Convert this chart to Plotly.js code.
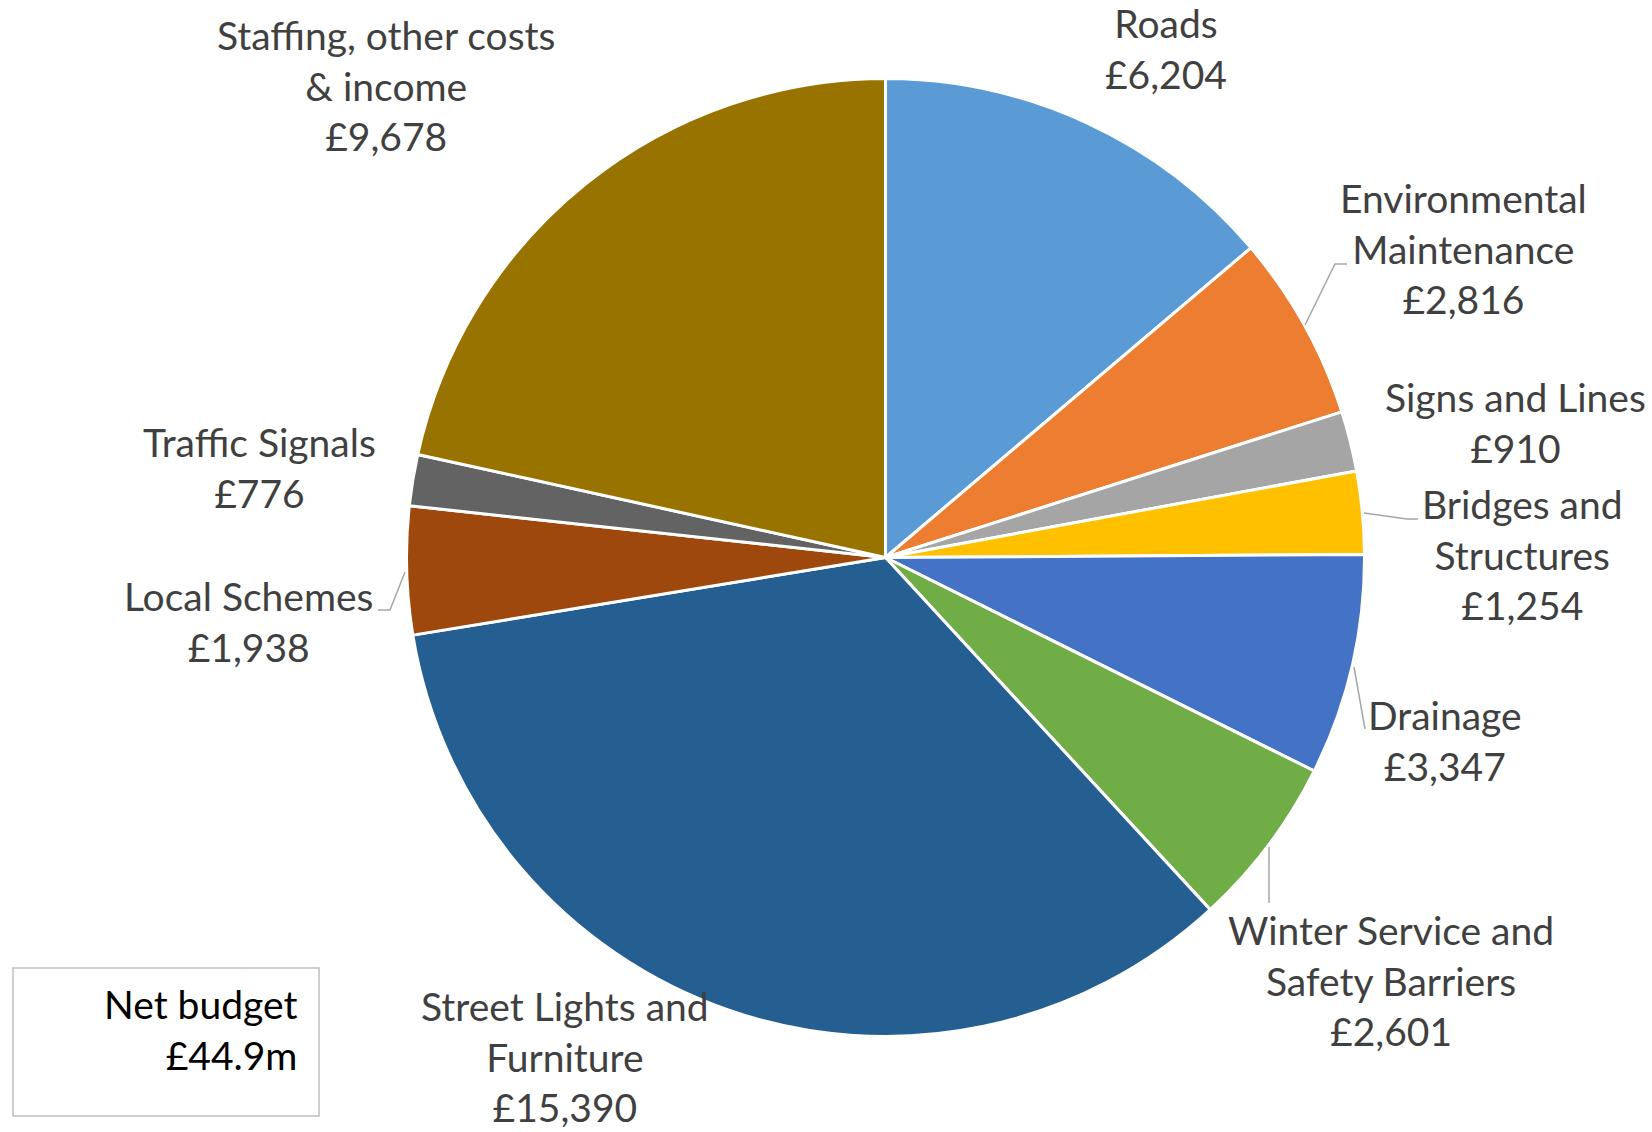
<!DOCTYPE html>
<html>
<head>
<meta charset="utf-8">
<script src="https://cdn.plot.ly/plotly-3.0.1.min.js"></script>
<style>
  html, body { margin: 0; padding: 0; background: #ffffff; }
  #chart { width: 1652px; height: 1132px; }
</style>
</head>
<body>
<div id="chart"></div>
<script>
// ---- Data ----
const categories = [
  "Roads",
  "Environmental Maintenance",
  "Signs and Lines",
  "Bridges and Structures",
  "Drainage",
  "Winter Service and Safety Barriers",
  "Street Lights and Furniture",
  "Local Schemes",
  "Traffic Signals",
  "Staffing, other costs & income"
];
const labelLines = [
  "Roads",
  "Environmental<br>Maintenance",
  "Signs and Lines",
  "Bridges and<br>Structures",
  "Drainage",
  "Winter Service and<br>Safety Barriers",
  "Street Lights and<br>Furniture",
  "Local Schemes",
  "Traffic Signals",
  "Staffing, other costs<br>& income"
];
const values = [6204, 2816, 910, 1254, 3347, 2601, 15390, 1938, 776, 9678];
const sliceColors = ["#5B9BD5", "#ED7D31", "#A5A5A5", "#FFC000", "#4472C4",
                     "#70AD47", "#255E91", "#9E480E", "#636363", "#997300"];
const totalLabel = "Net budget<br>£44.9m";

// ---- Layout helpers ----
const W = 1652, H = 1132;
const px = x => x / W;
const py = y => 1 - y / H;

// label centre positions (pixels)
const labelPos = [
  [1166, 49], [1463, 248], [1515, 422], [1522, 555], [1445, 740],
  [1391, 980], [565, 1056], [248, 621], [259, 467], [386, 86]
];

// leader lines (pixel polylines)
const leaders = [
  [[1305, 325], [1335, 264], [1347, 264]],
  [[1364, 513], [1407, 519], [1418, 519]],
  [[1354, 667], [1365, 729]],
  [[1269, 847], [1269, 903]],
  [[405, 572], [390, 610], [378, 610]]
];

const fmt = v => "£" + v.toLocaleString("en-GB");

const annotations = categories.map((c, i) => ({
  xref: "paper", yref: "paper",
  x: px(labelPos[i][0]), y: py(labelPos[i][1]),
  xanchor: "center", yanchor: "middle",
  text: labelLines[i] + "<br>" + fmt(values[i]),
  showarrow: false, align: "center", borderpad: 0,
  font: { family: "Lato, 'Open Sans', sans-serif", size: 39, color: "#404040" }
}));

annotations.push({
  xref: "paper", yref: "paper",
  x: px(298), y: py(1029),
  xanchor: "right", yanchor: "middle",
  text: totalLabel, showarrow: false, align: "right", borderpad: 0,
  font: { family: "Lato, 'Open Sans', sans-serif", size: 39, color: "#000000" }
});

const shapes = [];
leaders.forEach(pts => {
  let path = "M" + pts.map(p => px(p[0]) + "," + py(p[1])).join(" L");
  shapes.push({
    type: "path", xref: "paper", yref: "paper", path: path,
    line: { color: "#A6A6A6", width: 1.5 }
  });
});
shapes.push({
  type: "rect", xref: "paper", yref: "paper",
  x0: px(13), x1: px(319), y0: py(968), y1: py(1116),
  line: { color: "#BFBFBF", width: 1.5 }, fillcolor: "rgba(0,0,0,0)"
});

const trace = {
  type: "pie",
  labels: categories,
  values: values,
  sort: false,
  direction: "clockwise",
  rotation: 0,
  textinfo: "none",
  hoverinfo: "label+value",
  marker: { colors: sliceColors, line: { color: "#ffffff", width: 3 } },
  domain: { x: [px(885.5 - 479), px(885.5 + 479)], y: [py(1036.5), py(78.5)] },
  showlegend: false
};

const layout = {
  width: W, height: H,
  margin: { l: 0, r: 0, t: 0, b: 0 },
  paper_bgcolor: "#ffffff",
  showlegend: false,
  annotations: annotations,
  shapes: shapes
};

Plotly.newPlot("chart", [trace], layout, { displayModeBar: false, staticPlot: true });
</script>
</body>
</html>
